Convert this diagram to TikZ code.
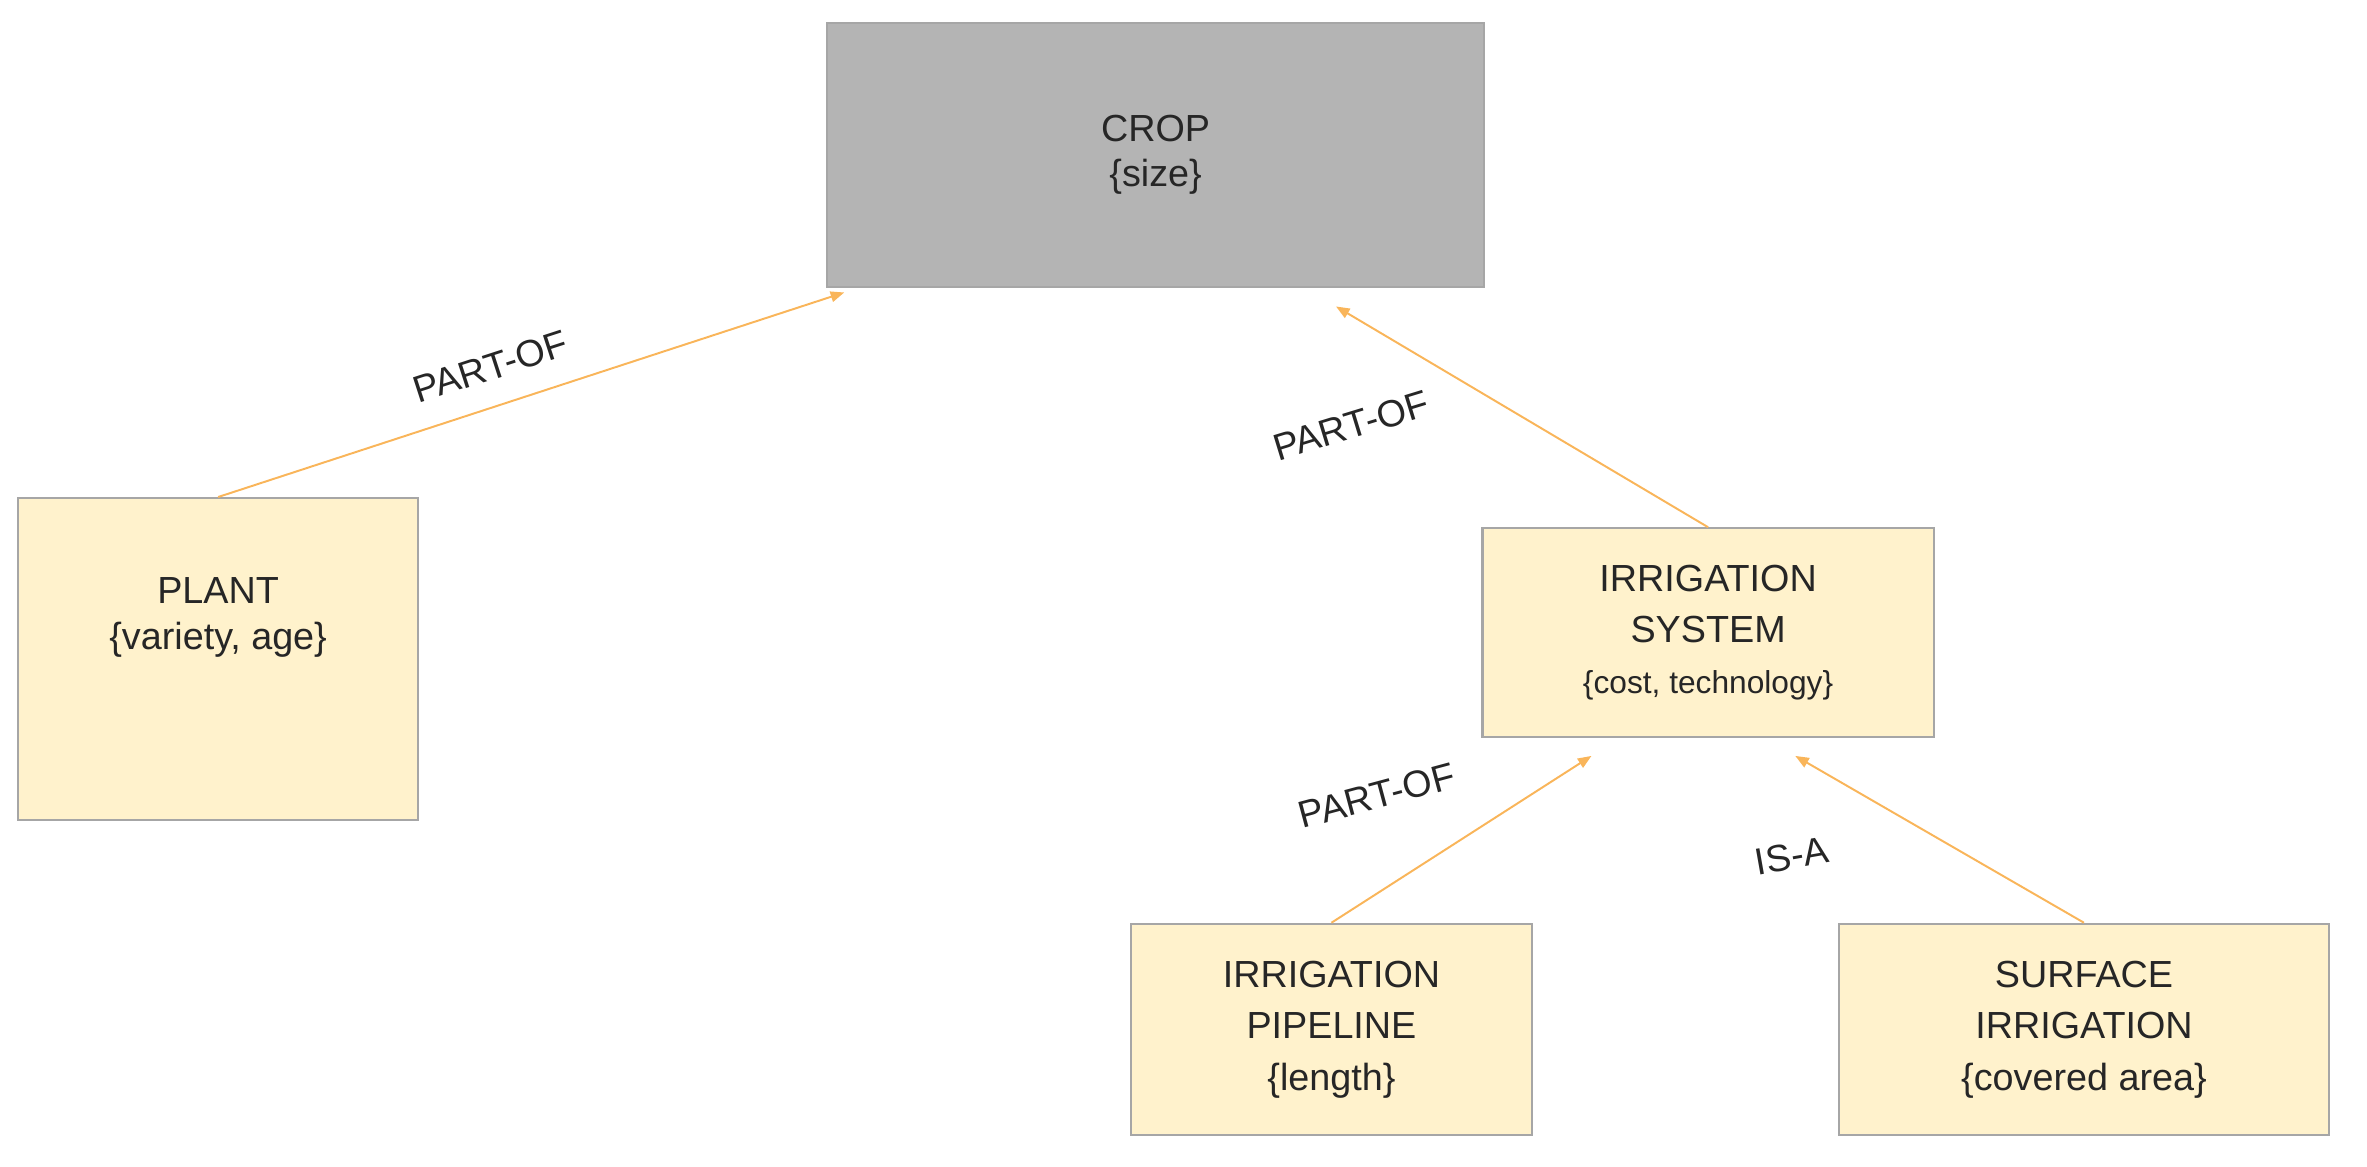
\documentclass[tikz,border=0pt]{standalone}
\usepackage{fontspec}
\setmainfont{Liberation Sans}
\usetikzlibrary{calc,arrows.meta}
\definecolor{boxfill}{HTML}{FFF2CC}
\definecolor{boxline}{HTML}{A6A6A6}
\definecolor{cropfill}{HTML}{B4B4B4}
\definecolor{arr}{HTML}{F9B55A}
\begin{document}
\begin{tikzpicture}[x=1pt,y=-1pt,
  box/.style={draw=boxline,line width=1.5pt,fill=boxfill,inner sep=0pt,align=center,font=\fontsize{25}{34}\selectfont,text=black!85},
  conn/.style={draw=arr,line width=1.3pt,-{Triangle[length=9pt,width=7pt]}},
  lab/.style={font=\fontsize{25}{28}\selectfont,text=black!85}]
\useasboundingbox (0,0) rectangle (1568,773);
\node[box,fill=cropfill,minimum width=435pt,minimum height=175pt,font=\fontsize{25}{30}\selectfont] (crop) at (765.5,102.5) {CROP\\{\{size\}}};
\node[box,minimum width=265pt,minimum height=213pt,font=\fontsize{25}{30}\selectfont] (plant) at (144.5,436.5) {PLANT\\\{variety, age\}\\[30pt]};
\node[box,minimum width=299pt,minimum height=138pt] (irr) at (1131.5,419) {IRRIGATION\\SYSTEM\\{\fontsize{21}{25}\selectfont\{cost, technology\}}};
\node[box,minimum width=266pt,minimum height=140pt] (pipe) at (882,682) {IRRIGATION\\PIPELINE\\\{length\}};
\node[box,minimum width=325pt,minimum height=140pt] (surf) at (1380.5,682) {SURFACE\\IRRIGATION\\\{covered area\}};
\coordinate (e2) at (885,203);
\draw[conn] (plant.north) -- ($(crop.south west)+(12,3)$);
\draw[conn] (irr.north) -- (e2);
\draw[conn] (pipe.north) -- ($(irr.south west)+(73,12)$);
\draw[conn] (surf.north) -- ($(irr.south west)+(208,12)$);
\node[lab,rotate=18] (l1) at (325,243) {PART-OF};
\node[lab,rotate=17] (l2) at (895,282) {PART-OF};
\node[lab,rotate=15] (l3) at (912,527) {PART-OF};
\node[lab,rotate=10] (l4) at (1187,567) {IS-A};
\end{tikzpicture}
\end{document}
